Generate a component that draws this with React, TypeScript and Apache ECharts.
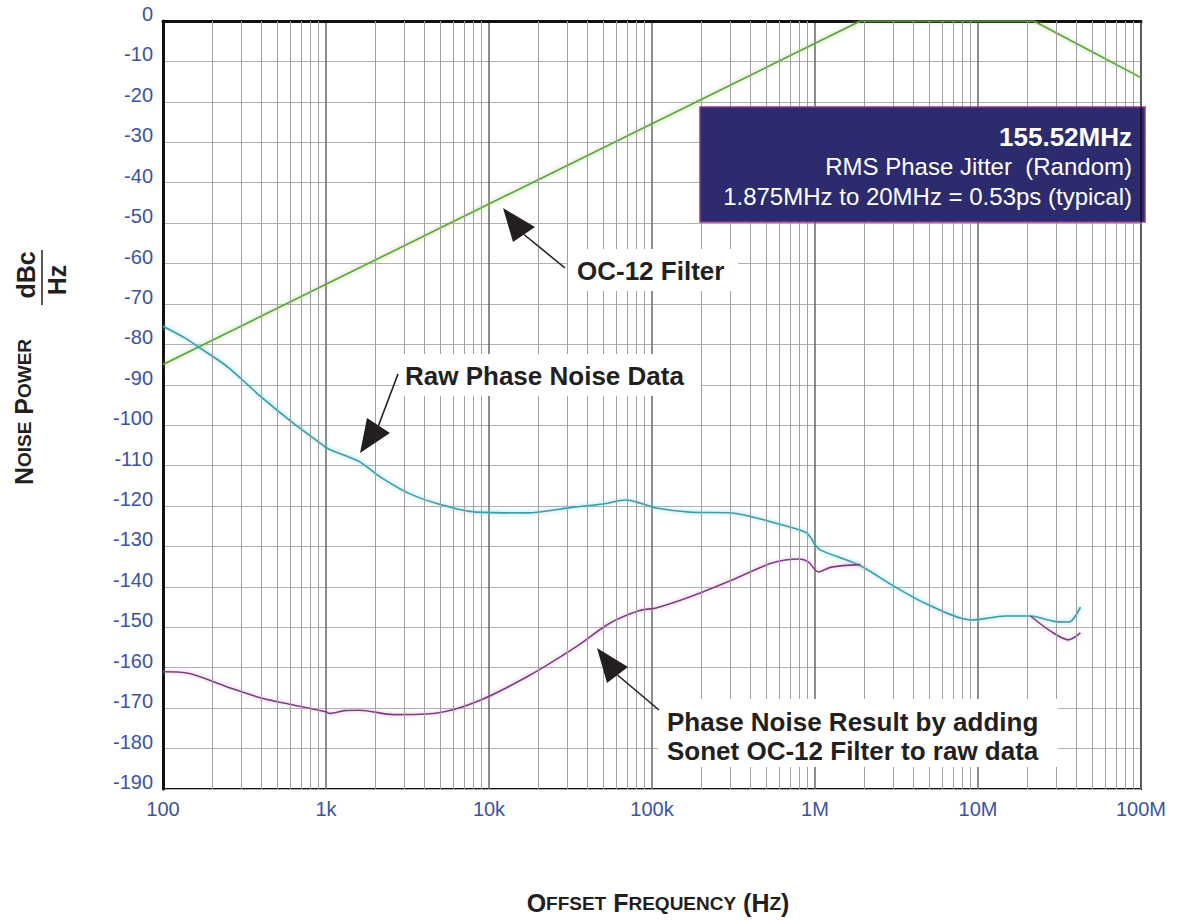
import React, { useEffect, useRef } from "react";
import * as echarts from "echarts";

// ---- data ----
const xTickLabels = ["100", "1k", "10k", "100k", "1M", "10M", "100M"];
const minorMultipliers = [2, 3, 4, 5, 6, 7, 8, 9];
const decades = [100, 1e3, 1e4, 1e5, 1e6, 1e7];

const rawFreq = [100, 136, 170, 250, 400, 630, 1000, 1050, 1600, 2150, 3200, 5100, 8300, 17000, 34000, 50000, 69000, 85000, 106000, 170000, 310000, 545000, 870000, 950000, 1000000, 1080000, 1860000, 3100000, 5000000, 9200000, 14700000, 21000000, 30000000, 36000000, 42500000];
const rawDb = [-75.5, -78.4, -81, -85.6, -93, -99.5, -105.5, -106, -109, -112.8, -116.8, -119.7, -121.5, -121.7, -120.2, -119.5, -118.5, -119.3, -120.5, -121.5, -121.7, -124, -126.4, -128, -129.6, -130.9, -134.6, -140, -144.5, -148.2, -147.2, -147.2, -148.6, -148.7, -145];

const resFreq = [100, 140, 250, 400, 630, 1000, 1050, 1300, 1600, 2600, 4800, 8300, 17000, 34000, 55000, 83000, 106000, 170000, 310000, 545000, 800000, 910000, 1050000, 1260000, 1900000, 5000000, 21000000, 28000000, 36000000, 42500000];
const resDb = [-161, -161.3, -164.8, -167.5, -169.2, -170.9, -171.3, -170.6, -170.5, -171.6, -171.2, -168.5, -162.3, -154.9, -149, -145.9, -145.2, -142.5, -138.3, -134.1, -133.1, -133.8, -136.3, -135.1, -134.5, null, -147.2, -151, -153.1, -151.4];

const filterFreq = [100, 1900000, 22000000, 100000000];
const filterDb = [-85, 0, 0, -14];

const Y_MIN = -190;
const Y_MAX = 0;
const Y_STEP = 10;

const FONT = "'Liberation Sans', Arial, Helvetica, sans-serif";
const BLUE = "#3b53a4";

export default function App() {
  const ref = useRef<HTMLDivElement>(null);

  useEffect(() => {
    if (!ref.current) return;
    const chart = echarts.init(ref.current, null, { renderer: "svg" });

    const minorLines: { xAxis: number }[] = [];
    decades.forEach((d) => minorMultipliers.forEach((m) => minorLines.push({ xAxis: d * m })));

    const rich = (big: number, small: number) => ({
      b: { fontSize: big, fontWeight: "bold", fontFamily: FONT, fill: "#231f20" },
      s: { fontSize: small, fontWeight: "bold", fontFamily: FONT, fill: "#231f20" },
    });

    const annoText = (x: number, y: number, text: string) => ({
      type: "text",
      x,
      y,
      z: 20,
      style: { text, fontSize: 26, fontWeight: "bold", fontFamily: FONT, fill: "#231f20", align: "left", verticalAlign: "middle" },
    });

    const arrow = (tip: number[], c1: number[], c2: number[], tail: number[]) => [
      {
        type: "line",
        z: 20,
        shape: { x1: (c1[0] + c2[0]) / 2, y1: (c1[1] + c2[1]) / 2, x2: tail[0], y2: tail[1] },
        style: { stroke: "#231f20", lineWidth: 1.6 },
      },
      {
        type: "polygon",
        z: 20,
        shape: { points: [tip, c1, [(c1[0] + c2[0]) / 2, (c1[1] + c2[1]) / 2], c2] },
        style: { fill: "#231f20" },
      },
    ];

    const option: any = {
      animation: false,
      backgroundColor: "#ffffff",
      grid: { left: 163, right: 36, top: 21, bottom: 131, show: true, borderColor: "#111", borderWidth: 2, backgroundColor: "transparent" },
      xAxis: {
        type: "log",
        logBase: 10,
        min: 100,
        max: 100000000,
        splitNumber: 6,
        axisLine: { show: true, lineStyle: { color: "#111", width: 3 } },
        axisTick: { show: false },
        axisLabel: {
          color: BLUE,
          fontSize: 20,
          fontFamily: FONT,
          margin: 10,
          formatter: (v: number) => xTickLabels[Math.round(Math.log10(v)) - 2] ?? "",
        },
        splitLine: { show: true, lineStyle: { color: "#707070", width: 1.6 } },
      },
      yAxis: {
        type: "value",
        min: Y_MIN,
        max: Y_MAX,
        interval: Y_STEP,
        axisLine: { show: true, lineStyle: { color: "#111", width: 3 } },
        axisTick: { show: false },
        axisLabel: { color: BLUE, fontSize: 20, fontFamily: FONT, margin: 10, verticalAlign: "bottom", lineHeight: 14 },
        splitLine: { show: true, lineStyle: { color: "#b0b0b0", width: 1.2 } },
      },
      series: [
        {
          name: "grid-minor",
          type: "line",
          data: [],
          z: 1,
          silent: true,
          markLine: {
            silent: true,
            symbol: ["none", "none"],
            label: { show: false },
            lineStyle: { color: "#a0a0a0", width: 1, type: "solid" },
            emphasis: { disabled: true },
            data: minorLines,
          },
        },
        {
          name: "OC-12 Filter",
          type: "line",
          z: 3,
          showSymbol: false,
          data: filterFreq.map((f, i) => [f, filterDb[i]]),
          lineStyle: { color: "#5f9e3c", width: 1.6, shadowColor: "rgba(140,205,100,0.9)", shadowBlur: 4 },
        },
        {
          name: "Raw Phase Noise Data",
          type: "line",
          z: 3,
          showSymbol: false,
          smooth: 0.3,
          data: rawFreq.map((f, i) => [f, rawDb[i]]),
          lineStyle: { color: "#3f9aa6", width: 1.6, shadowColor: "rgba(100,205,215,0.9)", shadowBlur: 4 },
        },
        {
          name: "Phase Noise Result",
          type: "line",
          z: 3,
          showSymbol: false,
          smooth: 0.3,
          connectNulls: false,
          data: resFreq.map((f, i) => [f, resDb[i] === null ? null : resDb[i]]),
          lineStyle: { color: "#7b3d7a", width: 1.6, shadowColor: "rgba(215,160,215,0.9)", shadowBlur: 4 },
        },
      ],
      graphic: [
        // jitter box
        {
          type: "rect",
          z: 10,
          shape: { x: 700, y: 107, width: 445, height: 115 },
          style: { fill: "#2c2b6e", stroke: "#8a3a8a", lineWidth: 1.5 },
        },
        { type: "line", z: 11, shape: { x1: 1141, y1: 107, x2: 1141, y2: 222 }, style: { stroke: "#111", lineWidth: 1.5 } },
        {
          type: "text", z: 12, x: 1132, y: 137,
          style: { text: "155.52MHz", fontSize: 26, fontWeight: "bold", fontFamily: FONT, fill: "#ffffff", align: "right", verticalAlign: "middle" },
        },
        {
          type: "text", z: 12, x: 1132, y: 166,
          style: { text: "RMS Phase Jitter  (Random)", fontSize: 24, fontFamily: FONT, fill: "#ffffff", align: "right", verticalAlign: "middle" },
        },
        {
          type: "text", z: 12, x: 1132, y: 196,
          style: { text: "1.875MHz to 20MHz = 0.53ps (typical)", fontSize: 24, fontFamily: FONT, fill: "#ffffff", align: "right", verticalAlign: "middle" },
        },
        // annotation backgrounds
        { type: "rect", z: 15, shape: { x: 568, y: 249, width: 170, height: 42 }, style: { fill: "#ffffff" } },
        { type: "rect", z: 15, shape: { x: 399, y: 354, width: 302, height: 42 }, style: { fill: "#ffffff" } },
        { type: "rect", z: 15, shape: { x: 658, y: 699, width: 400, height: 68 }, style: { fill: "#ffffff" } },
        annoText(577, 271, "OC-12 Filter"),
        annoText(405, 376, "Raw Phase Noise Data"),
        annoText(667, 722, "Phase Noise Result by adding"),
        annoText(667, 751, "Sonet OC-12 Filter to raw data"),
        ...arrow([503, 208], [513, 242], [535, 227], [565, 268]),
        ...arrow([360, 453], [367, 418], [390, 433], [398, 374]),
        ...arrow([597, 648], [607, 683], [628, 667], [659, 710]),
        // x axis title
        {
          type: "text", z: 12, x: 658, y: 903,
          style: {
            text: "{b|O}{s|FFSET}{b| F}{s|REQUENCY}{b| (H}{s|Z}{b|)}",
            rich: rich(25, 19),
            align: "center",
            verticalAlign: "middle",
          },
        },
        // y axis title
        {
          type: "text", z: 12, x: 24, y: 412, rotation: Math.PI / 2,
          style: {
            text: "{b|N}{s|OISE}{b| P}{s|OWER}",
            rich: rich(25, 19),
            align: "center",
            verticalAlign: "middle",
          },
        },
        {
          type: "text", z: 12, x: 26, y: 275, rotation: Math.PI / 2,
          style: { text: "dBc", fontSize: 25, fontWeight: "bold", fontFamily: FONT, fill: "#231f20", align: "center", verticalAlign: "middle" },
        },
        { type: "line", z: 12, shape: { x1: 42, y1: 250, x2: 42, y2: 305 }, style: { stroke: "#231f20", lineWidth: 1.5 } },
        {
          type: "text", z: 12, x: 57, y: 280, rotation: Math.PI / 2,
          style: { text: "Hz", fontSize: 25, fontWeight: "bold", fontFamily: FONT, fill: "#231f20", align: "center", verticalAlign: "middle" },
        },
      ],
    };

    chart.setOption(option);
    return () => chart.dispose();
  }, []);

  return (
    <div
      ref={ref}
      style={{ position: "fixed", left: 0, top: 0, width: 1177, height: 920, background: "#fff" }}
    />
  );
}
